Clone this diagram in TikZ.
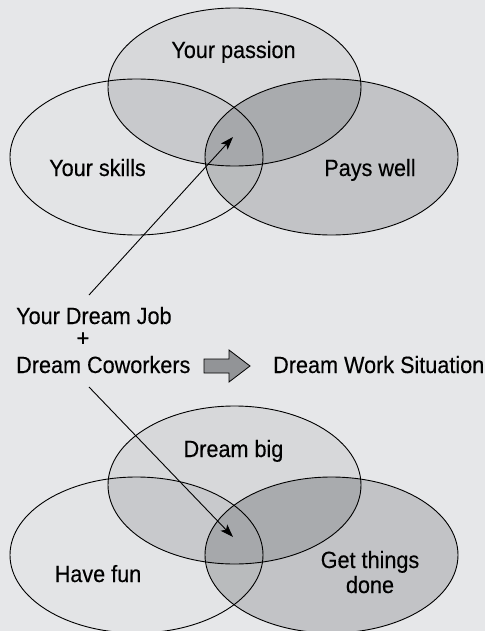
\documentclass[tikz,border=0pt]{standalone}
\usepackage{fontspec}
\setmainfont{Liberation Sans}[FakeStretch=0.92,FakeBold=0.3]
\usetikzlibrary{arrows.meta}
\definecolor{bgc}{HTML}{E6E7E9}
\definecolor{cL}{HTML}{E3E4E6}
\definecolor{cT}{HTML}{D7D8DA}
\definecolor{cR}{HTML}{C2C3C6}
\definecolor{cTL}{HTML}{C8C9CC}
\definecolor{cTR}{HTML}{A9ABAE}
\definecolor{cLR}{HTML}{B9BBBD}
\definecolor{cC}{HTML}{A6A8AB}
\definecolor{arrgray}{HTML}{929497}
\newcommand{\ellT}{(234.5,87) ellipse [x radius=126.5pt, y radius=79pt]}
\newcommand{\ellL}{(136.5,157) ellipse [x radius=126.5pt, y radius=78pt]}
\newcommand{\ellR}{(331.5,157) ellipse [x radius=126.5pt, y radius=78pt]}
\newcommand{\myvenn}[1]{%
  \begin{scope}[shift={(0,#1)}]
    \fill[cL] \ellL;
    \fill[cT] \ellT;
    \fill[cR] \ellR;
    \begin{scope}\clip \ellT; \fill[cTL] \ellL; \fill[cTR] \ellR; \end{scope}
    \begin{scope}\clip \ellL; \fill[cLR] \ellR; \end{scope}
    \begin{scope}\clip \ellT; \clip \ellL; \fill[cC] \ellR; \end{scope}
    \draw[outl] \ellL;
    \draw[outl] \ellT;
    \draw[outl] \ellR;
  \end{scope}}
\begin{document}
\begin{tikzpicture}[x=1pt,y=-1pt,
  outl/.style={line width=0.9pt},
  lbl/.style={inner sep=0pt, font=\fontsize{23.5pt}{25pt}\selectfont, align=center},
  pointer/.style={line width=0.9pt, -{Stealth[length=13pt,width=9pt,inset=3pt]}},
  blockarrow/.style={fill=arrgray, draw=black, line width=0.8pt, line join=miter}]
  \fill[bgc] (0,0) rectangle (485,631);
  \useasboundingbox (0,0) rectangle (485,631);

  % Venn diagrams
  \myvenn{0}
  \myvenn{398}

  % labels, top diagram
  \node[lbl, anchor=base] (passion) at (233.5,58) {Your passion};
  \node[lbl, anchor=base] (skills) at (97.5,176) {Your skills};
  \node[lbl, anchor=base] (pays) at (370,176) {Pays well};

  % labels, bottom diagram
  \node[lbl, anchor=base] (big) at (233.5,457) {Dream big};
  \node[lbl, anchor=base] (fun) at (98,582) {Have fun};
  \node[lbl, anchor=base] (done) at (370,593) {Get things\\done};

  % middle text
  \node[lbl, anchor=base west] (ydj) at (16,324) {Your Dream Job};
  \node[lbl, anchor=base] (plus) at (83,346) {+};
  \node[lbl, anchor=base west] (dc) at (16,373) {Dream Coworkers};
  \node[lbl, anchor=base west] (dws) at (273,373) {Dream Work Situation};

  % pointers
  \coordinate (tip1) at (233,137);
  \coordinate (tip2) at (233,537);
  \coordinate (s1) at (89,295);
  \coordinate (s2) at (89,387);
  \draw[pointer] (s1) -- (tip1);
  \draw[pointer] (s2) -- (tip2);

  % block arrow
  \coordinate (ba) at (204,366);
  \draw[blockarrow] (ba) ++(0,-7) -- ++(25,0) -- ++(0,-9) -- (250,366) -- (229,382) -- ++(0,-9) -- (204,373) -- cycle;
\end{tikzpicture}
\end{document}
